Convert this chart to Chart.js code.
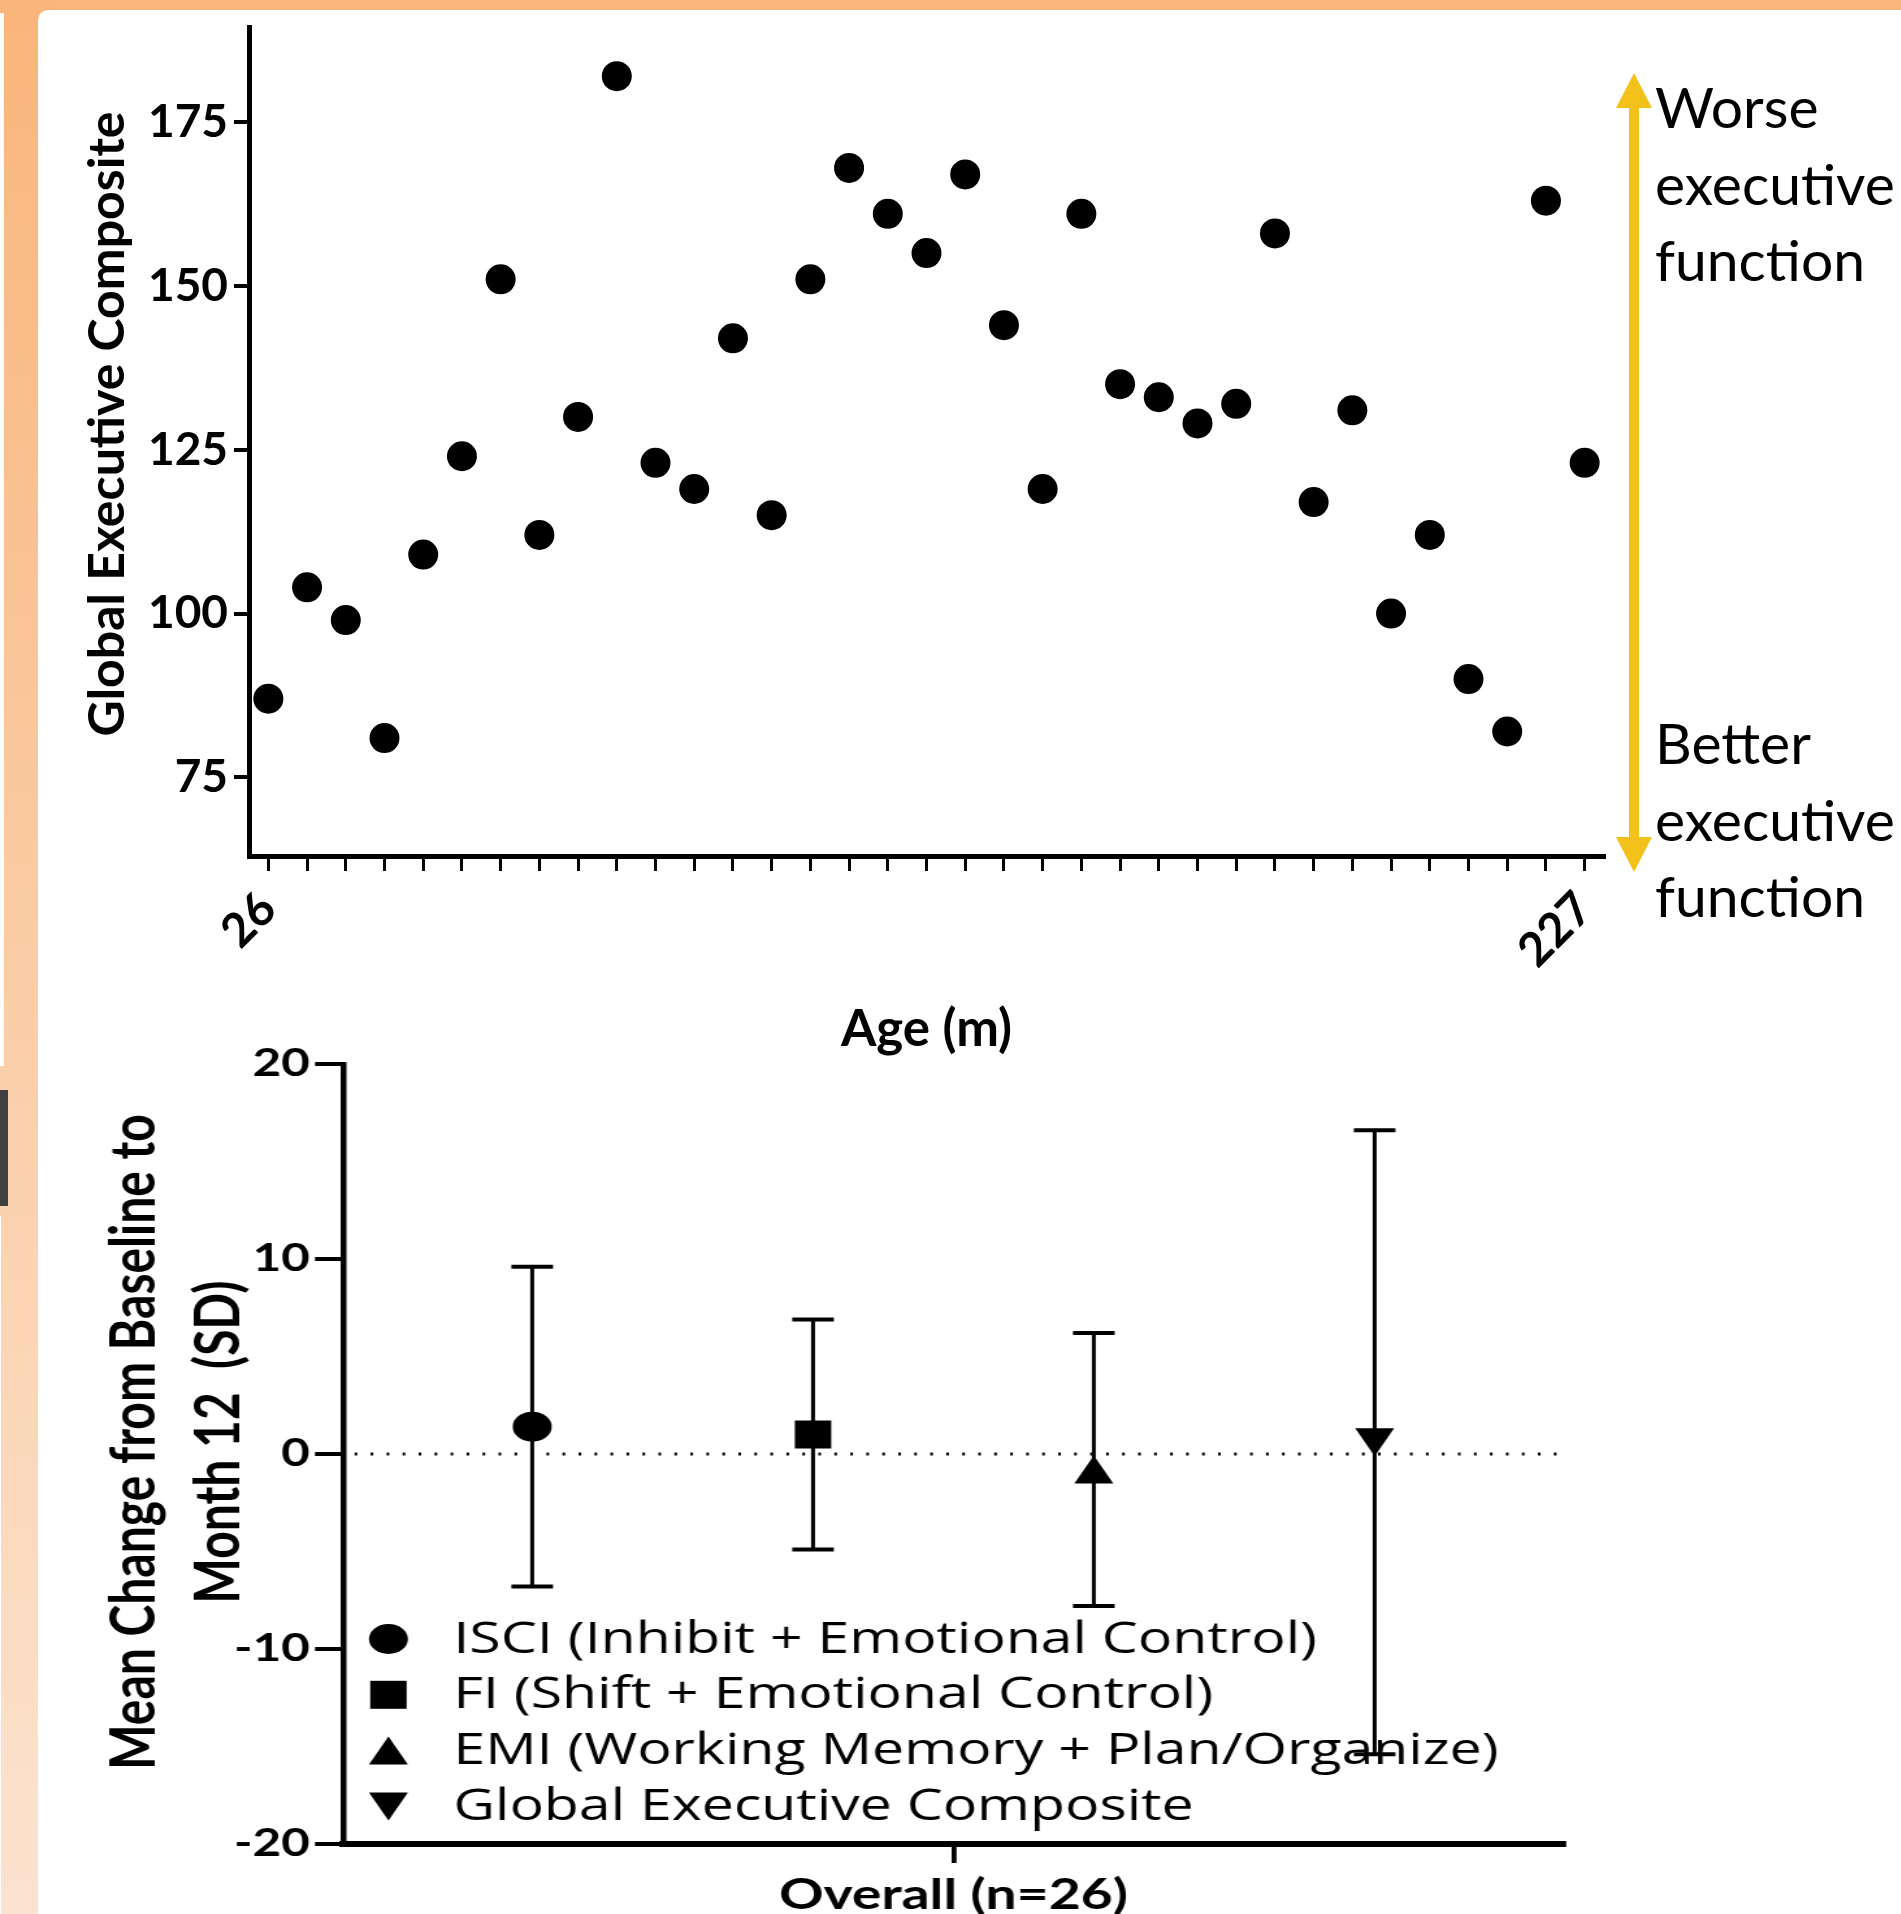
<!DOCTYPE html>
<html lang="en">
<head>
<meta charset="utf-8">
<title>Global Executive Composite by age, and change from baseline to month 12</title>
<script src="https://cdn.jsdelivr.net/npm/chart.js@4.4.1/dist/chart.umd.min.js"></script>
<style>
  html, body { margin: 0; padding: 0; }
  body { position: relative; width: 1901px; height: 1914px; overflow: hidden; background: #fab67c; }
  .band-left { position: absolute; left: 0; top: 0; width: 60px; height: 1914px; background: linear-gradient(to bottom, #f9b57b, #fce3cf); }
  .panel { position: absolute; left: 38px; top: 10px; right: 0; bottom: 0; background: #fff; border-top-left-radius: 10px; }
  .edge { position: absolute; left: 0; }
  .edge.light { top: 13px; width: 4px; height: 1053px; background: #fff; }
  .edge.dark { top: 1090px; width: 8px; height: 116px; background: #404040; }
  .edge.thin { top: 1216px; width: 1px; height: 698px; background: #fff; }
  .box { position: absolute; left: 0; }
  #topBox { top: 0; }
  #bottomBox { top: 1000px; transform: scaleX(1.3); transform-origin: 0 0; }
</style>
</head>
<body>
<div class="band-left"></div>
<div class="panel"></div>
<div class="edge light"></div>
<div class="edge dark"></div>
<div class="edge thin"></div>
<div class="box" id="topBox"><canvas id="ageChart" width="1901" height="1060"></canvas></div>
<div class="box" id="bottomBox"><canvas id="changeChart" width="1463" height="914"></canvas></div>

<script>
// ---- data: Global Executive Composite by age (35 children, age in months) ----
const ageLabels = [
    '26', '', '', '', '', '', '', '', '', '',
    '', '', '', '', '', '', '', '', '', '',
    '', '', '', '', '', '', '', '', '', '',
    '', '', '', '', '227'
];
const gecScores = [
    87, 104, 99, 81, 109, 124, 151, 112, 130, 182,
    123, 119, 142, 115, 151, 168, 161, 155, 167, 144,
    119, 161, 135, 133, 129, 132, 158, 117, 131, 100,
    112, 90, 82, 163, 123
];
const gecTicks = [75, 100, 125, 150, 175];
const gecTitle = ['Global Executive Composite'];
const noteWorse = ['Worse', 'executive', 'function'];
const noteBetter = ['Better', 'executive', 'function'];

// ---- data: mean change from baseline to month 12 (SD) ----
const groupLabels = ['Overall (n=26)'];
const indexNames = [
    'ISCI (Inhibit + Emotional Control)',
    'FI (Shift + Emotional Control)',
    'EMI (Working Memory + Plan/Organize)',
    'Global Executive Composite'
];
const meanChange = [1.4, 1.0, -0.8, 0.6];
const sdChange = [8.2, 5.9, 7.0, 16.0];
const changeTicks = [-20, -10, 0, 10, 20];
const changeTitle = ['Mean Change from Baseline to', 'Month 12  (SD)'];

const ChartStyle = {
    ink: '#000',
    arrow: '#f3c21a',
    font: 'Lato',
    legendFont: '"Open Sans"',
    markers: ['circle', 'square', 'triangle', 'triangleDown'],
    markerSize: 28
};

Chart.defaults.font.family = ChartStyle.font;
Chart.defaults.color = ChartStyle.ink;

// scale boxes get a fixed size so the plot area lands where the figure has it
function fixedSize(prop, size) {
    return (scale) => {
        scale[prop] = size;
        scale.paddingLeft = scale.paddingRight = scale.paddingTop = scale.paddingBottom = 0;
    };
}
function useTicks(values) {
    return (scale) => { scale.ticks = values.map(v => ({ value: v })); };
}

// rotated axis title, centred on (x, y); extra lines go to the right
function drawAxisTitle(ctx, lines, x, y, size, gap) {
    ctx.save();
    ctx.translate(x, y);
    ctx.rotate(-Math.PI / 2);
    ctx.fillStyle = ChartStyle.ink;
    ctx.font = 'bold ' + size + 'px ' + ChartStyle.font;
    ctx.textAlign = 'center';
    ctx.textBaseline = 'middle';
    lines.forEach((t, i) => ctx.fillText(t, 0, i * gap));
    ctx.restore();
}

function drawMarker(ctx, shape, x, y, size) {
    const h = size / 2;
    const w = h * 1.07;
    ctx.beginPath();
    if (shape === 'circle') {
        ctx.arc(x, y, h + 1, 0, Math.PI * 2);
    } else if (shape === 'square') {
        ctx.rect(x - h, y - h, size, size);
    } else if (shape === 'triangle') {
        ctx.moveTo(x, y - h); ctx.lineTo(x + w, y + h); ctx.lineTo(x - w, y + h);
    } else {
        ctx.moveTo(x, y + h); ctx.lineTo(x + w, y - h); ctx.lineTo(x - w, y - h);
    }
    ctx.closePath();
    ctx.fill();
}

// y title, plus the yellow double arrow with its two notes right of the scatter
const directionNote = {
    id: 'directionNote',
    afterDraw(chart) {
        const { ctx, chartArea: a } = chart;
        drawAxisTitle(ctx, gecTitle, a.left - 141, a.top + 397, 50, 0);

        const x = a.right + 30;
        const top = a.top + 46;
        const bottom = a.bottom + 16;
        const head = 35, half = 18;
        ctx.save();
        ctx.fillStyle = ChartStyle.arrow;
        ctx.fillRect(x - 5, top + head - 1, 10, bottom - top - 2 * head + 2);
        ctx.beginPath();
        ctx.moveTo(x, top); ctx.lineTo(x + half, top + head); ctx.lineTo(x - half, top + head);
        ctx.closePath(); ctx.fill();
        ctx.beginPath();
        ctx.moveTo(x, bottom); ctx.lineTo(x + half, bottom - head); ctx.lineTo(x - half, bottom - head);
        ctx.closePath(); ctx.fill();

        ctx.fillStyle = ChartStyle.ink;
        ctx.font = '57px ' + ChartStyle.font;
        ctx.textAlign = 'left';
        ctx.textBaseline = 'alphabetic';
        noteWorse.forEach((t, i) => ctx.fillText(t, x + 21, a.top + 101 + i * 76.5));
        noteBetter.forEach((t, i) => ctx.fillText(t, x + 21, a.bottom - 92 + i * 76.5));
        ctx.restore();
    }
};

// dotted zero line, error bar caps, group markers, legend and y title
const errorBars = {
    id: 'errorBars',
    beforeDatasetsDraw(chart) {
        const { ctx, chartArea: a, scales: { y } } = chart;
        const y0 = y.getPixelForValue(0);
        ctx.save();
        ctx.strokeStyle = ChartStyle.ink;
        ctx.lineWidth = 3;
        ctx.setLineDash([2, 10.3]);
        ctx.beginPath();
        ctx.moveTo(a.left + 9, y0);
        ctx.lineTo(a.right - 5, y0);
        ctx.stroke();
        ctx.restore();
    },
    afterDatasetsDraw(chart) {
        const { ctx, scales: { y } } = chart;
        ctx.save();
        ctx.strokeStyle = ChartStyle.ink;
        ctx.fillStyle = ChartStyle.ink;
        ctx.lineWidth = 4;
        chart.data.datasets.forEach((ds, i) => {
            const x = chart.getDatasetMeta(i).data[0].x;
            [meanChange[i] - sdChange[i], meanChange[i] + sdChange[i]].forEach(v => {
                const py = y.getPixelForValue(v);
                ctx.beginPath();
                ctx.moveTo(x - 16, py);
                ctx.lineTo(x + 16, py);
                ctx.stroke();
            });
            drawMarker(ctx, ChartStyle.markers[i], x, y.getPixelForValue(meanChange[i]), ChartStyle.markerSize);
        });
        ctx.restore();
    },
    afterDraw(chart) {
        const { ctx, chartArea: a } = chart;
        drawAxisTitle(ctx, changeTitle, a.left - 160, a.top + 378, 48, 65);

        ctx.save();
        ctx.fillStyle = ChartStyle.ink;
        ctx.font = '44px ' + ChartStyle.legendFont;
        ctx.textAlign = 'left';
        ctx.textBaseline = 'middle';
        indexNames.forEach((name, i) => {
            const ly = a.bottom - 205 + i * 55.8;
            drawMarker(ctx, ChartStyle.markers[i], a.left + 35, ly, ChartStyle.markerSize);
            ctx.fillText(name, a.left + 85, ly + 1);
        });
        ctx.restore();
    }
};

const ink = ChartStyle.ink;

new Chart(document.getElementById('ageChart'), {
    type: 'line',
    data: {
        labels: ageLabels,
        datasets: [{
            label: 'Global Executive Composite',
            data: gecScores,
            showLine: false,
            pointRadius: 15,
            pointHoverRadius: 15,
            pointBackgroundColor: ink,
            pointBorderWidth: 0,
            clip: false
        }]
    },
    options: {
        responsive: false,
        animation: false,
        events: [],
        layout: { padding: { left: 0, top: 27, right: 297, bottom: 0 } },
        plugins: { legend: { display: false }, tooltip: { enabled: false } },
        scales: {
            x: {
                type: 'category',
                offset: true,
                grid: { drawOnChartArea: false, tickLength: 15, lineWidth: 3, color: ink },
                border: { display: true, width: 5, color: ink },
                ticks: {
                    autoSkip: false, minRotation: 45, maxRotation: 45, padding: 10,
                    font: { size: 47, weight: 'bold' }
                },
                title: {
                    display: true, text: 'Age (m)',
                    font: { size: 51, weight: 'bold' },
                    padding: { top: 0, bottom: 0 }
                },
                afterFit: fixedSize('height', 204)
            },
            y: {
                min: 63,
                max: 189.5,
                afterBuildTicks: useTicks(gecTicks),
                grid: { drawOnChartArea: false, tickLength: 15, lineWidth: 4, color: ink },
                border: { display: true, width: 5, color: ink },
                ticks: { padding: 6, font: { size: 46, weight: 'bold' } },
                title: { display: false },
                afterFit: fixedSize('width', 249)
            }
        }
    },
    plugins: [directionNote]
});

new Chart(document.getElementById('changeChart'), {
    type: 'bar',
    data: {
        labels: groupLabels,
        datasets: indexNames.map((name, i) => ({
            label: name,
            data: [[meanChange[i] - sdChange[i], meanChange[i] + sdChange[i]]],
            backgroundColor: ink,
            borderWidth: 0,
            maxBarThickness: 3,
            categoryPercentage: 0.92,
            barPercentage: 1
        }))
    },
    options: {
        responsive: false,
        animation: false,
        events: [],
        layout: { padding: { left: 0, top: 64, right: 260, bottom: 0 } },
        plugins: { legend: { display: false }, tooltip: { enabled: false } },
        scales: {
            x: {
                grid: { drawOnChartArea: false, offset: false, tickLength: 19, lineWidth: 3.8, color: ink },
                border: { display: true, width: 6, color: ink },
                ticks: { padding: 7, font: { size: 42.5, weight: 'bold' } },
                afterFit: fixedSize('height', 70)
            },
            y: {
                min: -20,
                max: 20,
                afterBuildTicks: useTicks(changeTicks),
                grid: { drawOnChartArea: false, tickLength: 21.5, lineWidth: 4, color: ink },
                border: { display: true, width: 4.5, color: ink },
                ticks: { padding: 4, font: { size: 38, weight: 'bold' } },
                title: { display: false },
                afterFit: fixedSize('width', 263.8)
            }
        }
    },
    plugins: [errorBars]
});
</script>
</body>
</html>
